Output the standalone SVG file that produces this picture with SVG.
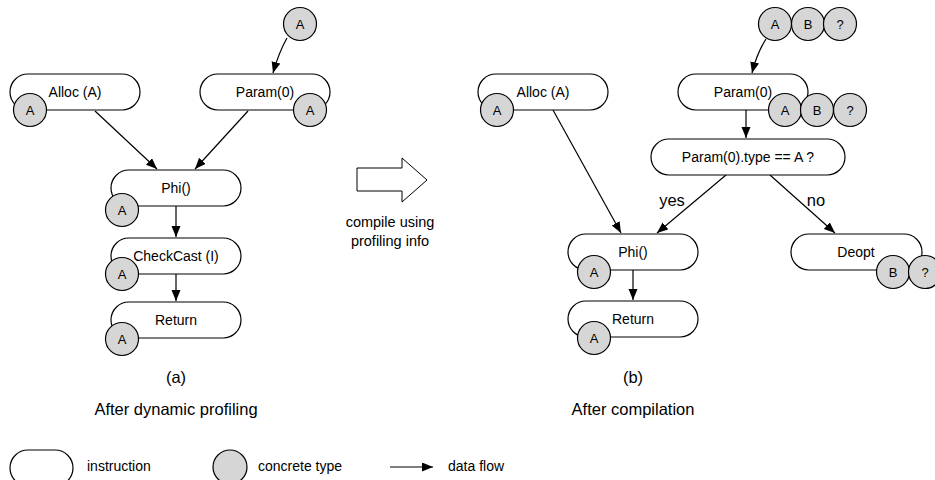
<svg xmlns="http://www.w3.org/2000/svg" width="935" height="480" viewBox="0 0 935 480">
<defs>
<marker id="ah" markerUnits="userSpaceOnUse" markerWidth="12" markerHeight="10" refX="11" refY="4.5" orient="auto">
<path d="M0,0 L11,4.5 L0,9 z" fill="#000"/>
</marker>
</defs>
<style>
.pill{fill:#fff;stroke:#000;stroke-width:1.2}
.ty{fill:#d6d6d6;stroke:#000;stroke-width:1.2}
text{font-family:"Liberation Sans",Arial,sans-serif;font-size:14px;fill:#000}
.c{text-anchor:middle}
.s{font-size:13px}
.L{font-size:16.5px}
.e{fill:none;stroke:#000;stroke-width:1.2}
.ea{fill:none;stroke:#000;stroke-width:1.2;marker-end:url(#ah)}
</style>
<rect width="935" height="480" fill="#fff"/>

<g id="connectors">
<path class="ea" d="M287,38 Q279,52 273,73"/>
<line class="ea" x1="95" y1="111" x2="157" y2="169"/>
<line class="ea" x1="248" y1="111" x2="195" y2="169"/>
<line class="ea" x1="176" y1="205" x2="176" y2="237"/>
<line class="ea" x1="176" y1="274" x2="176" y2="301"/>
<path class="ea" d="M766,39 Q757,53 752,73"/>
<line class="ea" x1="746" y1="110" x2="746" y2="138"/>
<line class="ea" x1="553" y1="110" x2="621" y2="233"/>
<line class="ea" x1="726" y1="175" x2="657" y2="233"/>
<line class="ea" x1="770" y1="175" x2="835" y2="233"/>
<line class="ea" x1="633" y1="270" x2="633" y2="300"/>
</g>

<g id="left-top-type"><circle class="ty" cx="300" cy="24" r="16.5"/><text class="c s" x="300" y="29">A</text></g>
<g id="left-alloc"><rect class="pill" x="10" y="74" width="130" height="36" rx="18"/><text class="c" x="75" y="97">Alloc (A)</text><circle class="ty" cx="30" cy="110" r="16.5"/><text class="c s" x="30" y="115">A</text></g>
<g id="left-param"><rect class="pill" x="200" y="74" width="130" height="36" rx="18"/><text class="c" x="265" y="97">Param(0)</text><circle class="ty" cx="310" cy="110" r="16.5"/><text class="c s" x="310" y="115">A</text></g>
<g id="left-phi"><rect class="pill" x="111" y="170" width="130" height="36" rx="18"/><text class="c" x="176" y="193">Phi()</text><circle class="ty" cx="122" cy="210" r="16.5"/><text class="c s" x="122" y="215">A</text></g>
<g id="left-checkcast"><rect class="pill" x="111" y="238" width="130" height="36" rx="18"/><text class="c" x="176" y="261">CheckCast (I)</text><circle class="ty" cx="122" cy="274" r="16.5"/><text class="c s" x="122" y="279">A</text></g>
<g id="left-return"><rect class="pill" x="111" y="302" width="130" height="36" rx="18"/><text class="c" x="176" y="325">Return</text><circle class="ty" cx="122" cy="339" r="16.5"/><text class="c s" x="122" y="344">A</text></g>
<g id="label-a"><text class="c L" x="176" y="383">(a)</text><text class="c L" x="176" y="415">After dynamic profiling</text></g>

<g id="compile-arrow"><path d="M357,168 L402,168 L402,158 L427,180 L402,202 L402,191 L357,191 z" fill="#fff" stroke="#000" stroke-width="1"/>
<text class="c" x="390" y="227" style="font-size:14.5px">compile using</text><text class="c" x="390" y="246" style="font-size:14.5px">profiling info</text></g>

<g id="right-top-types"><circle class="ty" cx="775" cy="24" r="16.5"/><text class="c s" x="775" y="29">A</text><circle class="ty" cx="808" cy="24" r="16.5"/><text class="c s" x="808" y="29">B</text><circle class="ty" cx="840" cy="24" r="16.5"/><text class="c s" x="840" y="29">?</text></g>
<g id="right-alloc"><rect class="pill" x="478" y="74" width="130" height="36" rx="18"/><text class="c" x="543" y="97">Alloc (A)</text><circle class="ty" cx="497" cy="110" r="16.5"/><text class="c s" x="497" y="115">A</text></g>
<g id="right-param"><rect class="pill" x="678" y="74" width="130" height="36" rx="18"/><text class="c" x="743" y="97">Param(0)</text><circle class="ty" cx="785" cy="110" r="16.5"/><text class="c s" x="785" y="115">A</text><circle class="ty" cx="817" cy="110" r="16.5"/><text class="c s" x="817" y="115">B</text><circle class="ty" cx="850" cy="110" r="16.5"/><text class="c s" x="850" y="115">?</text></g>
<g id="right-check"><rect class="pill" x="651" y="139" width="194" height="36" rx="18"/><text class="c" x="748" y="162">Param(0).type == A ?</text></g>
<g id="edge-labels"><text class="c L" x="672" y="206">yes</text><text class="c L" x="816" y="206">no</text></g>
<g id="right-phi"><rect class="pill" x="568" y="234" width="130" height="36" rx="18"/><text class="c" x="633" y="257">Phi()</text><circle class="ty" cx="594" cy="272" r="16.5"/><text class="c s" x="594" y="277">A</text></g>
<g id="right-return"><rect class="pill" x="568" y="301" width="130" height="36" rx="18"/><text class="c" x="633" y="324">Return</text><circle class="ty" cx="594" cy="338" r="16.5"/><text class="c s" x="594" y="343">A</text></g>
<g id="right-deopt"><rect class="pill" x="791" y="234" width="131" height="36" rx="18"/><text class="c" x="856" y="257">Deopt</text><circle class="ty" cx="893" cy="272" r="16.5"/><text class="c s" x="893" y="277">B</text><circle class="ty" cx="925" cy="272" r="16.5"/><text class="c s" x="925" y="277">?</text></g>
<g id="label-b"><text class="c L" x="633" y="383">(b)</text><text class="c L" x="633" y="415">After compilation</text></g>

<g id="legend">
<rect class="pill" x="10" y="450" width="63" height="36" rx="18"/><text x="87" y="471">instruction</text>
<circle class="ty" cx="230" cy="467" r="17"/><text x="258" y="471">concrete type</text>
<line class="ea" x1="390" y1="467" x2="433" y2="467"/><text x="448" y="471">data flow</text>
</g>
</svg>
